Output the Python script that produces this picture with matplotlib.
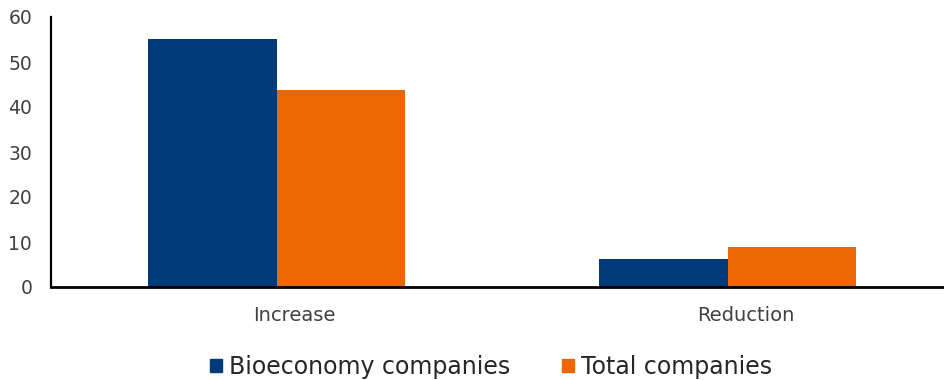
import matplotlib
matplotlib.use("Agg")
import matplotlib.pyplot as plt
from matplotlib.patches import Patch
from matplotlib.transforms import ScaledTranslation
import numpy as np

plt.rcParams['font.family'] = ['DejaVu Sans']

categories = ["Increase", "Reduction"]
series_names = ["Bioeconomy companies", "Total companies"]
bioeconomy = [55.2, 6.2]
total = [43.7, 8.9]
yticks = [0, 10, 20, 30, 40, 50, 60]

colors = ["#003A78", "#EC6602"]

fig = plt.figure(figsize=(9.44, 3.8), dpi=100)
ax = fig.add_axes([51 / 944, 1 - 287 / 380, 902 / 944, 270 / 380])

x = np.arange(len(categories))
w = 0.286
ax.bar(x - w / 2, bioeconomy, width=w, color=colors[0])
ax.bar(x + w / 2, total, width=w, color=colors[1])

ax.set_xlim(-0.5, len(categories) - 0.5)
ax.set_ylim(0, 60)
ax.set_yticks(yticks)
ax.set_xticks(x)
ax.set_xticklabels(categories)
ax.tick_params(axis='both', length=0, colors="#404040")
ax.tick_params(axis='y', pad=13.5, labelsize=13.5)
ax.tick_params(axis='x', pad=14, labelsize=14)
# category labels sit slightly to the right of the group centre
shift = ScaledTranslation(18 / 100, 0, fig.dpi_scale_trans)
for lbl in ax.get_xticklabels():
    lbl.set_transform(lbl.get_transform() + shift)
for s in ["top", "right"]:
    ax.spines[s].set_visible(False)
ax.spines["left"].set_linewidth(1.6)
ax.spines["bottom"].set_linewidth(2.0)
ax.spines["left"].set_color("black")
ax.spines["bottom"].set_color("black")

handles = [Patch(color=c) for c in colors]
fig.legend(handles, series_names, loc="center", bbox_to_anchor=(491 / 944, 1 - 367 / 380),
           ncol=2, frameon=False, fontsize=17, handlelength=0.5, handleheight=0.5,
           handletextpad=0.3, columnspacing=2.2, labelcolor="#262626")

fig.savefig("out.png", dpi=100)
